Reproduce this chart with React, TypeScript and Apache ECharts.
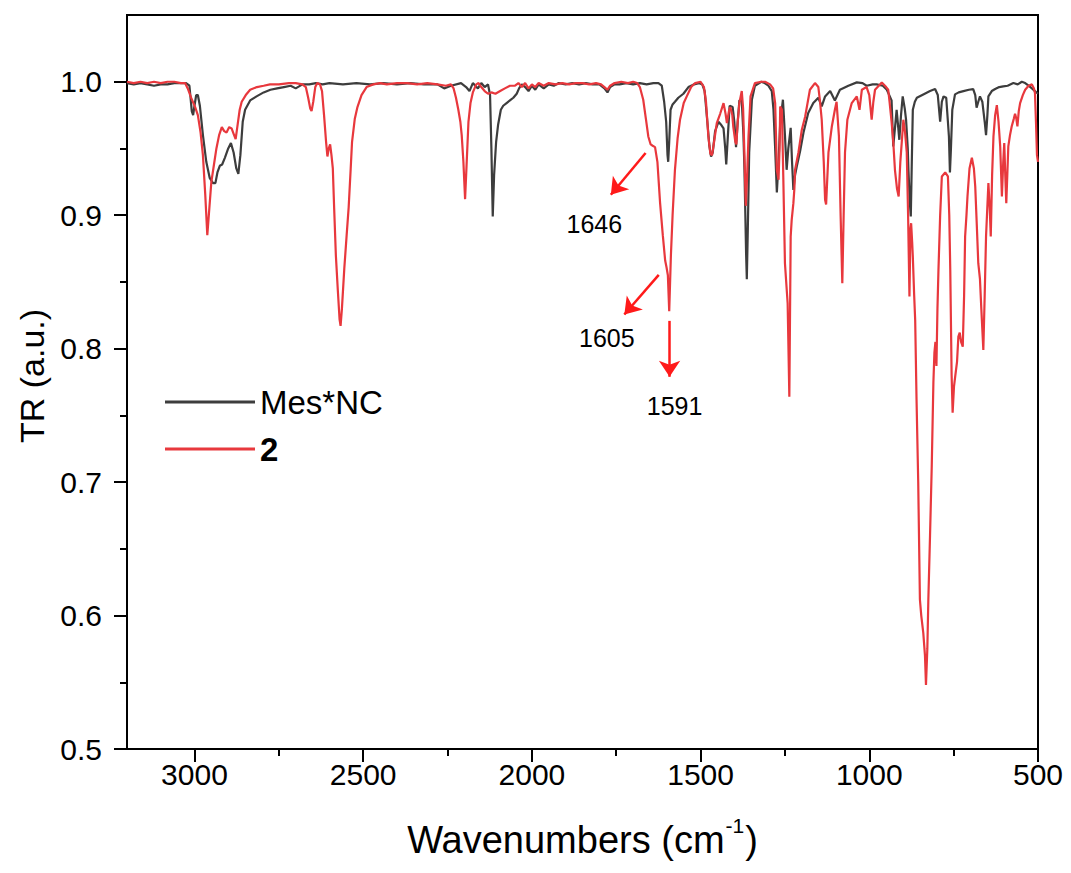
import React, { useEffect, useRef } from 'react';
import * as echarts from 'echarts';

const FONT = '"Liberation Sans", Arial, Helvetica, sans-serif';

// Mes*NC spectrum: [wavenumber (cm-1), transmittance]
const mesSpectrum: [number, number][] = [
  [3200, 0.999], [3180, 0.998], [3160, 0.999], [3140, 0.998], [3120, 0.997], [3100, 0.998],
  [3080, 0.998], [3060, 0.999], [3040, 0.999], [3025, 0.999], [3015, 0.997], [3008, 0.978],
  [3004, 0.975], [3000, 0.982], [2995, 0.99], [2990, 0.99], [2984, 0.982], [2975, 0.96],
  [2965, 0.94], [2955, 0.928], [2945, 0.924], [2938, 0.924], [2932, 0.932], [2925, 0.937],
  [2918, 0.938], [2910, 0.943], [2900, 0.95], [2892, 0.954], [2884, 0.947], [2876, 0.935],
  [2870, 0.931], [2864, 0.945], [2857, 0.97], [2850, 0.979], [2835, 0.986], [2816, 0.989],
  [2795, 0.992], [2775, 0.994], [2755, 0.995], [2735, 0.996], [2715, 0.997], [2700, 0.995],
  [2680, 0.998], [2660, 0.998], [2640, 0.999], [2620, 0.998], [2600, 0.999], [2560, 0.998],
  [2520, 0.999], [2480, 0.998], [2440, 0.999], [2400, 0.998], [2360, 0.999], [2320, 0.998],
  [2280, 0.998], [2260, 0.995], [2240, 0.997], [2210, 0.999], [2195, 0.996], [2185, 0.993],
  [2175, 0.999], [2160, 0.995], [2150, 0.999], [2140, 0.996], [2130, 0.998], [2124, 0.99],
  [2120, 0.95], [2116, 0.899], [2112, 0.93], [2106, 0.955], [2100, 0.968], [2092, 0.979],
  [2085, 0.982], [2075, 0.984], [2065, 0.986], [2055, 0.988], [2045, 0.991], [2038, 0.995],
  [2030, 0.998], [2020, 0.996], [2010, 0.993], [2000, 0.997], [1990, 0.994], [1980, 0.998],
  [1965, 0.995], [1950, 0.998], [1935, 0.997], [1920, 0.999], [1900, 0.998], [1880, 0.999],
  [1860, 0.998], [1840, 0.999], [1820, 0.998], [1800, 0.998], [1785, 0.995], [1776, 0.992],
  [1768, 0.996], [1755, 0.998], [1740, 0.998], [1720, 0.999], [1700, 0.998], [1680, 0.999],
  [1660, 0.998], [1640, 0.999], [1625, 0.999], [1615, 0.997], [1608, 0.985], [1602, 0.97],
  [1598, 0.945], [1596, 0.94], [1593, 0.955], [1589, 0.979], [1583, 0.983], [1576, 0.985],
  [1566, 0.988], [1551, 0.991], [1536, 0.996], [1520, 0.998], [1505, 0.999], [1495, 0.998],
  [1488, 0.993], [1480, 0.97], [1474, 0.952], [1469, 0.944], [1464, 0.947], [1457, 0.963],
  [1447, 0.97], [1440, 0.968], [1432, 0.965], [1427, 0.95], [1424, 0.938], [1419, 0.96],
  [1414, 0.982], [1405, 0.981], [1400, 0.97], [1395, 0.951], [1390, 0.97], [1385, 0.986],
  [1378, 0.986], [1373, 0.96], [1370, 0.934], [1365, 0.87], [1363, 0.852], [1360, 0.89],
  [1356, 0.947], [1348, 0.9865], [1339, 0.997], [1320, 1.0], [1310, 0.999], [1299, 0.997],
  [1289, 0.993], [1284, 0.979], [1279, 0.95], [1274, 0.917], [1269, 0.94], [1264, 0.969],
  [1256, 0.9865], [1250, 0.96], [1245, 0.934], [1240, 0.95], [1233, 0.9655], [1229, 0.94],
  [1225, 0.919], [1220, 0.93], [1215, 0.9365], [1205, 0.948], [1195, 0.962], [1181, 0.9765],
  [1166, 0.984], [1151, 0.988], [1141, 0.9815], [1131, 0.989], [1116, 0.993], [1102, 0.986],
  [1087, 0.994], [1062, 0.997], [1037, 0.9995], [1020, 0.999], [1008, 0.997], [990, 0.998],
  [978, 0.998], [960, 0.997], [948, 0.994], [934, 0.986], [929, 0.9515], [924, 0.965],
  [919, 0.979], [914, 0.965], [911, 0.9565], [906, 0.975], [901, 0.989], [895, 0.98],
  [891, 0.9715], [886, 0.95], [884, 0.934], [880, 0.91], [877, 0.899], [874, 0.94],
  [871, 0.979], [865, 0.985], [859, 0.988], [840, 0.9905], [820, 0.993], [805, 0.9945],
  [797, 0.99], [790, 0.97], [785, 0.985], [780, 0.989], [772, 0.988], [767, 0.97],
  [764, 0.959], [761, 0.932], [758, 0.95], [754, 0.979], [746, 0.9905], [735, 0.992],
  [721, 0.993], [705, 0.994], [692, 0.9945], [686, 0.99], [682, 0.9805], [677, 0.985],
  [672, 0.989], [665, 0.985], [658, 0.97], [654, 0.96], [650, 0.975], [647, 0.989],
  [637, 0.993], [627, 0.9945], [615, 0.996], [603, 0.9965], [590, 0.997], [573, 0.999],
  [560, 0.998], [548, 1.0], [538, 0.999], [528, 0.997], [518, 0.995], [509, 0.993], [500, 0.991],
];

// Compound 2 spectrum: [wavenumber (cm-1), transmittance]
const cmp2Spectrum: [number, number][] = [
  [3200, 1.0], [3180, 0.999], [3160, 1.0], [3140, 0.999], [3120, 1.0], [3100, 0.999],
  [3080, 1.0], [3060, 1.0], [3040, 0.999], [3028, 0.999], [3020, 0.995], [3010, 0.988],
  [2998, 0.981], [2990, 0.975], [2982, 0.962], [2975, 0.945], [2968, 0.915], [2962, 0.885],
  [2956, 0.905], [2950, 0.925], [2944, 0.935], [2935, 0.95], [2927, 0.96], [2919, 0.966],
  [2912, 0.963], [2905, 0.962], [2897, 0.966], [2890, 0.965], [2884, 0.961], [2878, 0.957],
  [2872, 0.968], [2866, 0.979], [2860, 0.985], [2848, 0.99], [2835, 0.994], [2815, 0.996],
  [2795, 0.997], [2776, 0.998], [2750, 0.998], [2720, 0.999], [2700, 0.999], [2680, 0.998],
  [2670, 0.996], [2663, 0.988], [2657, 0.98], [2653, 0.978], [2648, 0.985], [2642, 0.996],
  [2636, 0.999], [2628, 0.998], [2622, 0.993], [2616, 0.975], [2610, 0.955], [2606, 0.944],
  [2602, 0.95], [2598, 0.953], [2594, 0.945], [2590, 0.935], [2586, 0.905], [2581, 0.87],
  [2575, 0.843], [2570, 0.822], [2567, 0.817], [2563, 0.83], [2556, 0.86], [2549, 0.885],
  [2543, 0.906], [2537, 0.935], [2533, 0.955], [2525, 0.972], [2517, 0.981], [2505, 0.99],
  [2490, 0.996], [2470, 0.998], [2450, 0.999], [2430, 0.998], [2400, 0.999], [2370, 0.999],
  [2340, 0.998], [2310, 0.999], [2280, 0.998], [2255, 0.997], [2240, 0.998], [2232, 0.995],
  [2225, 0.988], [2218, 0.979], [2212, 0.97], [2208, 0.96], [2203, 0.94], [2198, 0.912],
  [2194, 0.935], [2188, 0.97], [2182, 0.984], [2175, 0.992], [2165, 0.998], [2158, 0.999],
  [2150, 0.996], [2140, 0.993], [2130, 0.991], [2120, 0.992], [2108, 0.991], [2094, 0.993],
  [2080, 0.995], [2065, 0.997], [2050, 0.997], [2040, 0.999], [2030, 0.996], [2020, 0.999],
  [2010, 0.995], [2000, 0.998], [1990, 0.996], [1980, 0.999], [1965, 0.997], [1950, 0.999],
  [1930, 0.998], [1910, 0.999], [1890, 0.998], [1870, 0.999], [1850, 0.999], [1830, 0.998],
  [1810, 0.999], [1795, 0.998], [1785, 0.996], [1776, 0.994], [1768, 0.997], [1755, 0.999],
  [1735, 1.0], [1715, 0.999], [1700, 1.0], [1688, 0.999], [1680, 0.996], [1670, 0.9865],
  [1662, 0.972], [1655, 0.959], [1648, 0.953], [1642, 0.952], [1635, 0.951], [1628, 0.94],
  [1620, 0.909], [1612, 0.885], [1605, 0.866], [1601, 0.861], [1597, 0.855], [1593, 0.828],
  [1588, 0.87], [1583, 0.9], [1576, 0.934], [1568, 0.958], [1561, 0.9715], [1550, 0.984],
  [1541, 0.989], [1528, 0.996], [1516, 0.999], [1500, 1.0], [1490, 0.996], [1484, 0.985],
  [1477, 0.959], [1471, 0.946], [1466, 0.945], [1460, 0.955], [1452, 0.969], [1442, 0.976],
  [1432, 0.984], [1426, 0.976], [1422, 0.969], [1416, 0.978], [1412, 0.981], [1406, 0.975],
  [1403, 0.966], [1397, 0.955], [1394, 0.953], [1390, 0.97], [1385, 0.984], [1378, 0.993],
  [1374, 0.98], [1370, 0.945], [1366, 0.907], [1362, 0.93], [1358, 0.959], [1352, 0.989],
  [1339, 0.999], [1320, 1.0], [1309, 1.0], [1294, 0.998], [1285, 0.995], [1279, 0.984],
  [1274, 0.934], [1269, 0.9265], [1266, 0.95], [1264, 0.9815], [1259, 0.979], [1255, 0.93],
  [1250, 0.864], [1242, 0.834], [1237, 0.764], [1233, 0.884], [1230, 0.8965], [1225, 0.909],
  [1222, 0.92], [1220, 0.934], [1210, 0.947], [1200, 0.964], [1190, 0.974], [1176, 0.994],
  [1161, 0.999], [1151, 0.996], [1146, 0.985], [1141, 0.9715], [1135, 0.94], [1131, 0.9115],
  [1128, 0.908], [1121, 0.947], [1111, 0.9665], [1102, 0.979], [1097, 0.985], [1090, 0.959],
  [1085, 0.9], [1080, 0.849], [1076, 0.9], [1072, 0.947], [1065, 0.9715], [1052, 0.984],
  [1037, 0.989], [1029, 0.979], [1022, 0.994], [1008, 0.996], [1000, 0.99], [993, 0.9715],
  [988, 0.985], [983, 0.994], [963, 0.9995], [950, 0.996], [944, 0.994], [940, 0.985],
  [934, 0.97], [929, 0.955], [924, 0.934], [918, 0.92], [913, 0.914], [908, 0.94],
  [904, 0.954], [899, 0.9715], [894, 0.962], [889, 0.947], [885, 0.9], [881, 0.839],
  [878, 0.89], [876, 0.894], [873, 0.88], [871, 0.869], [867, 0.84], [864, 0.8215],
  [860, 0.762], [855, 0.7], [850, 0.612], [846, 0.6], [840, 0.587], [835, 0.57],
  [832, 0.548], [828, 0.575], [825, 0.612], [820, 0.66], [815, 0.711], [810, 0.775],
  [807, 0.797], [804, 0.805], [801, 0.787], [798, 0.83], [795, 0.859], [790, 0.9],
  [785, 0.929], [775, 0.932], [767, 0.929], [763, 0.9], [760, 0.859], [756, 0.78],
  [753, 0.752], [749, 0.7715], [745, 0.78], [740, 0.79], [736, 0.809], [732, 0.812],
  [728, 0.805], [723, 0.8015], [719, 0.84], [716, 0.884], [712, 0.9], [709, 0.914],
  [703, 0.935], [696, 0.943], [690, 0.935], [686, 0.9215], [681, 0.89], [677, 0.864],
  [672, 0.852], [668, 0.83], [662, 0.799], [658, 0.84], [654, 0.884], [647, 0.924],
  [643, 0.905], [640, 0.884], [636, 0.93], [632, 0.959], [627, 0.975], [622, 0.9825],
  [617, 0.97], [612, 0.9515], [607, 0.914], [603, 0.94], [600, 0.954], [597, 0.93],
  [594, 0.909], [591, 0.93], [588, 0.9515], [583, 0.96], [578, 0.9665], [572, 0.972],
  [568, 0.976], [564, 0.972], [561, 0.9665], [557, 0.978], [553, 0.984], [545, 0.99],
  [538, 0.994], [528, 0.997], [518, 0.998], [512, 0.995], [509, 0.9915], [506, 0.97],
  [503, 0.945], [500, 0.94],
];

const xMajorTicks = [3000, 2500, 2000, 1500, 1000, 500];
const xMinorTicks = [2750, 2250, 1750, 1250, 750];
const yMajorTicks = [0.5, 0.6, 0.7, 0.8, 0.9, 1.0];
const yMinorTicks = [0.55, 0.65, 0.75, 0.85, 0.95];

// Peak annotation arrows: [from wavenumber, from TR, to wavenumber, to TR]
const arrowSegments: [number, number, number, number][] = [
  [1663, 0.9466, 1766, 0.9153],
  [1624, 0.8553, 1726, 0.8256],
  [1592, 0.8208, 1592, 0.7789],
];
// Peak labels: [text, wavenumber, TR]
const peakLabels: [string, number, number][] = [
  ['1646', 1815, 0.8936],
  ['1605', 1778, 0.8081],
  ['1591', 1577, 0.7573],
];

const BLACK = '#3d3d3d';
const RED = '#e8383d';
const ARROW_RED = '#ff1a1a';

export default function App() {
  const ref = useRef<HTMLDivElement>(null);
  useEffect(() => {
    if (!ref.current) return;
    const chart = echarts.init(ref.current, undefined, { renderer: 'svg' });
    const axisLineStyle = { color: '#000', width: 2 };
    const legendText = { fontSize: 33, fontFamily: FONT, color: '#000', lineHeight: 40 };
    chart.setOption({
      animation: false,
      backgroundColor: '#fff',
      grid: {
        left: 127, right: 33, top: 15, bottom: 124,
        show: true, borderColor: '#000', borderWidth: 2, containLabel: false,
      },
      legend: [
        {
          data: ['Mes*NC'], left: 165, top: 382, padding: 0, orient: 'vertical',
          itemWidth: 90, itemHeight: 3, icon: 'rect', textStyle: legendText, selectedMode: false,
        },
        {
          data: [{ name: '2', textStyle: { fontWeight: 'bold' } }], left: 165, top: 429, padding: 0,
          orient: 'vertical', itemWidth: 90, itemHeight: 3, icon: 'rect', textStyle: legendText,
          selectedMode: false,
        },
      ],
      xAxis: [
        {
          type: 'value', min: 500, max: 3200, interval: 500, inverse: true, position: 'bottom',
          axisLine: { show: true, onZero: false, lineStyle: axisLineStyle },
          axisTick: { show: true, customValues: xMajorTicks, length: 13, lineStyle: axisLineStyle },
          axisLabel: {
            customValues: xMajorTicks, fontSize: 30, color: '#000', margin: 10, fontFamily: FONT,
            formatter: (v: number) => String(v),
          },
          splitLine: { show: false },
          name: '{a|Wavenumbers (cm}{s|-1}{a|)}',
          nameLocation: 'middle',
          nameGap: 66,
          nameTextStyle: {
            rich: {
              a: { fontSize: 38, fontFamily: FONT, color: '#000', verticalAlign: 'bottom', lineHeight: 44 },
              s: { fontSize: 21, fontFamily: FONT, color: '#000', verticalAlign: 'top', lineHeight: 44, padding: [0, 1, 0, 1] },
            },
          },
        },
        {
          type: 'value', min: 500, max: 3200, interval: 250, inverse: true, position: 'bottom',
          axisLine: { show: false, onZero: false },
          axisTick: { show: true, customValues: xMinorTicks, length: 7, lineStyle: axisLineStyle },
          axisLabel: { show: false },
          splitLine: { show: false },
        },
      ],
      yAxis: [
        {
          type: 'value', min: 0.5, max: 1.05, interval: 0.1, position: 'left',
          axisLine: { show: true, onZero: false, lineStyle: axisLineStyle },
          axisTick: { show: true, customValues: yMajorTicks, length: 13, lineStyle: axisLineStyle },
          axisLabel: {
            customValues: yMajorTicks, fontSize: 30, color: '#000', margin: 25, fontFamily: FONT,
            formatter: (v: number) => v.toFixed(1),
          },
          splitLine: { show: false },
          name: 'TR (a.u.)',
          nameLocation: 'middle',
          nameGap: 76,
          nameTextStyle: { fontSize: 34, fontFamily: FONT, color: '#000', padding: [0, 0, 0, 12] },
        },
        {
          type: 'value', min: 0.5, max: 1.05, interval: 0.05, position: 'left',
          axisLine: { show: false, onZero: false },
          axisTick: { show: true, customValues: yMinorTicks, length: 7, lineStyle: axisLineStyle },
          axisLabel: { show: false },
          splitLine: { show: false },
        },
      ],
      series: [
        {
          type: 'line', name: 'Mes*NC', data: mesSpectrum, xAxisIndex: 0, yAxisIndex: 0,
          showSymbol: false, symbol: 'none', silent: true,
          lineStyle: { color: BLACK, width: 2.2 }, itemStyle: { color: BLACK },
        },
        {
          type: 'line', name: '2', data: cmp2Spectrum, xAxisIndex: 0, yAxisIndex: 0,
          showSymbol: false, symbol: 'none', silent: true,
          lineStyle: { color: RED, width: 2.2 }, itemStyle: { color: RED },
          markLine: {
            silent: true,
            symbol: ['none', 'arrow'],
            symbolSize: 16,
            label: { show: false },
            itemStyle: { color: ARROW_RED },
            lineStyle: { color: ARROW_RED, width: 2.5, type: 'solid' },
            emphasis: { disabled: true },
            data: arrowSegments.map(([x1, y1, x2, y2]) => [
              { coord: [x1, y1], symbol: 'none' },
              { coord: [x2, y2], symbol: 'arrow', symbolSize: 16 },
            ]),
          },
          markPoint: {
            silent: true,
            symbol: 'circle',
            symbolSize: 0,
            itemStyle: { color: 'rgba(0,0,0,0)' },
            label: {
              show: true, position: 'inside', color: '#000', fontSize: 25, fontFamily: FONT,
              formatter: '{b}',
            },
            data: peakLabels.map(([name, x, y]) => ({ name, coord: [x, y] })),
          },
        },
      ],
    });
    return () => chart.dispose();
  }, []);
  return (
    <div
      ref={ref}
      style={{ position: 'fixed', left: 0, top: 0, width: 1071, height: 873, background: '#fff' }}
    />
  );
}
